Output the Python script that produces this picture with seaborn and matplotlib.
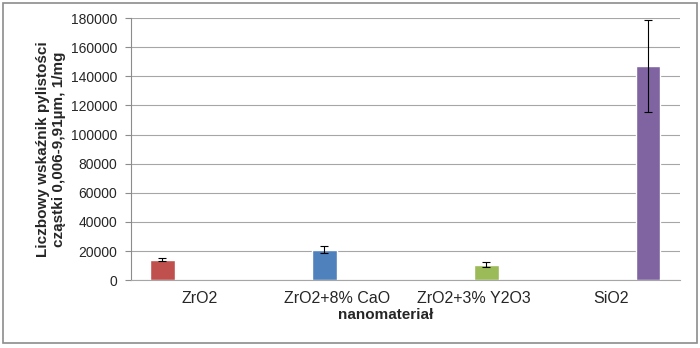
import matplotlib
matplotlib.use("Agg")
import matplotlib.pyplot as plt
from matplotlib.patches import Rectangle
import seaborn as sns
import pandas as pd

# dane
materialy = ["ZrO2", "ZrO2+8% CaO", "ZrO2+3% Y2O3", "SiO2"]
wartosci = [14100, 20900, 10700, 147000]
bledy = [1200, 2300, 1800, 31500]
kolory = ["#C0504D", "#4F81BD", "#9BBB59", "#8064A2"]
y_ticks = [0, 20000, 40000, 60000, 80000, 100000, 120000, 140000, 160000, 180000]

df = pd.DataFrame({"material": materialy, "wartosc": wartosci})

sns.set_theme(style="white")
plt.rcParams["font.family"] = ["Liberation Sans", "DejaVu Sans"]

fig = plt.figure(figsize=(7.0, 3.48), dpi=100)
ax = fig.add_axes([0.187, 0.195, 0.784, 0.753])

sns.barplot(data=df, x="material", y="wartosc", hue="material",
            order=materialy, hue_order=materialy, palette=kolory,
            dodge=True, width=0.72, errorbar=None, legend=False,
            saturation=1, ax=ax)

# słupki błędów na środkach narysowanych słupków
for cont, blad in zip(ax.containers, bledy):
    for p in cont.patches:
        h = p.get_height()
        if h != h:  # NaN
            continue
        xc = p.get_x() + p.get_width() / 2
        ax.errorbar(xc, h, yerr=blad, fmt="none", ecolor="black",
                    elinewidth=0.8, capsize=3, capthick=0.8, zorder=4)

ax.set_xlim(-0.5, len(materialy) - 0.5)
ax.set_ylim(0, 180000)
ax.set_yticks(y_ticks)
ax.set_yticklabels([str(v) for v in y_ticks], fontsize=10)
ax.tick_params(axis="y", which="major", left=True, length=4, width=0.8,
               color="#8c8c8c", pad=6)
ax.tick_params(axis="x", bottom=False, labelsize=11.5, pad=2)
ax.yaxis.grid(True, color="#a6a6a6", linewidth=0.8)
ax.set_axisbelow(True)

for s in ["top", "right"]:
    ax.spines[s].set_visible(False)
ax.spines["left"].set_color("#8c8c8c")
ax.spines["bottom"].set_color("#a6a6a6")
ax.spines["left"].set_linewidth(0.8)
ax.spines["bottom"].set_linewidth(0.8)

ax.set_ylabel("Liczbowy wskaźnik pylistości\ncząstki 0,006-9,91µm, 1/mg",
              fontsize=11, fontweight="bold", linespacing=1.2)
ax.set_xlabel("nanomateriał", fontsize=11, fontweight="bold")
ax.xaxis.set_label_coords(0.465, -0.105)
ax.yaxis.set_label_coords(-0.118, 0.5)

# ramka wokół całego wykresu
fig.patches.append(Rectangle((3 / 700, 5 / 348), 694 / 700, 340 / 348,
                             transform=fig.transFigure, fill=False,
                             edgecolor="#8c8c8c", linewidth=1.2))

fig.savefig("out.png", dpi=100)
